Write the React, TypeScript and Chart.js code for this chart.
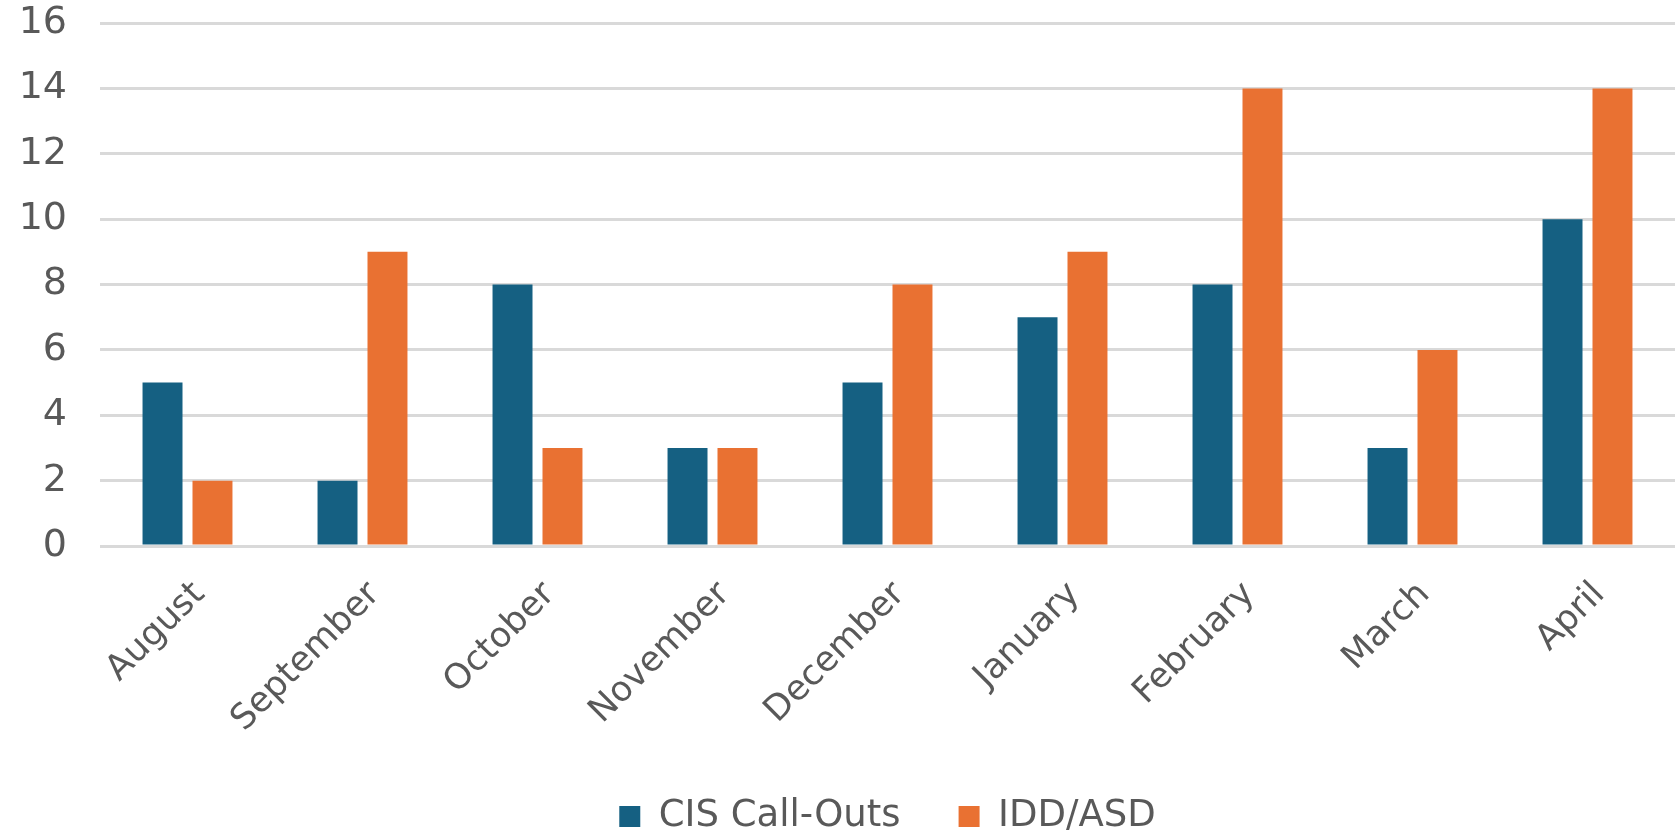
import React, { useEffect, useRef } from "react";
import { Chart, registerables } from "chart.js";

Chart.register(...registerables);

const categories = ["August", "September", "October", "November", "December", "January", "February", "March", "April"];
const cisCallOuts = [5, 2, 8, 3, 5, 7, 8, 3, 10];
const iddAsd = [2, 9, 3, 3, 8, 9, 14, 6, 14];
const seriesNames = ["CIS Call-Outs", "IDD/ASD"];
const seriesColors = ["#156082", "#E97132"];

const FONT = "'DejaVu Sans', 'Open Sans', sans-serif";
const TEXT = "#595959";

export default function App() {
  const ref = useRef<HTMLCanvasElement | null>(null);
  useEffect(() => {
    if (!ref.current) return;
    const chart = new Chart(ref.current, {
      type: "bar",
      data: {
        labels: categories,
        datasets: [
          { label: seriesNames[0], data: cisCallOuts, backgroundColor: seriesColors[0] },
          { label: seriesNames[1], data: iddAsd, backgroundColor: seriesColors[1] },
        ],
      },
      options: {
        animation: false,
        responsive: true,
        maintainAspectRatio: false,
        layout: { padding: { top: 23, right: 3, left: 0, bottom: -13 } },
        datasets: { bar: { categoryPercentage: 0.571, barPercentage: 0.8 } },
        plugins: {
          tooltip: { enabled: false },
          legend: {
            position: "bottom",
            fullSize: false,
            labels: {
              boxWidth: 21,
              boxHeight: 21,
              padding: 58,
              color: TEXT,
              font: { family: FONT, size: 37 },
            },
          },
        },
        scales: {
          x: {
            grid: { display: false },
            border: { display: false },
            ticks: {
              color: TEXT,
              font: { family: FONT, size: 35 },
              minRotation: 45,
              maxRotation: 45,
              padding: 20,
              labelOffset: 12,
            },
            afterFit: (s: any) => {
              s.height = 194;
              s.paddingLeft = 0;
              s.paddingRight = 0;
            },
          },
          y: {
            min: 0,
            max: 16,
            grid: { color: "#d9d9d9", lineWidth: 3, drawTicks: false },
            border: { display: false },
            ticks: {
              stepSize: 2,
              color: TEXT,
              font: { family: FONT, size: 38 },
              padding: 33,
            },
            afterFit: (s: any) => {
              s.width = 100;
              s.paddingTop = 0;
              s.paddingBottom = 0;
            },
          },
        },
      },
    });
    return () => chart.destroy();
  }, []);
  return (
    <div style={{ position: "fixed", left: 0, top: 0, width: 1678, height: 832, background: "#fff" }}>
      <canvas ref={ref} />
    </div>
  );
}
